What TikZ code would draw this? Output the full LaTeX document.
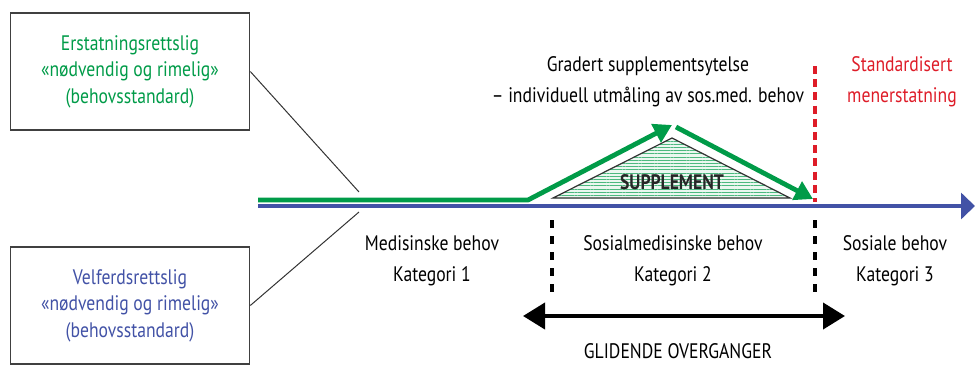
\documentclass[tikz,border=0pt]{standalone}
\usepackage{fontspec}
\setmainfont[FakeStretch=0.84]{PT Sans}
\usepackage{tikz}
\usetikzlibrary{arrows.meta,patterns.meta}
\definecolor{grncolor}{RGB}{0,155,72}
\definecolor{blucolor}{RGB}{66,82,166}
\definecolor{redcolor}{RGB}{222,28,40}
\tikzset{
  box/.style={draw=black!75, thick, minimum width=119.5pt, minimum height=58.5pt, font=\fontsize{10.5}{13.2}\selectfont, align=center, inner sep=2pt},
  lbl/.style={font=\fontsize{10.5}{15.5}\selectfont, align=center, inner sep=1pt},
  pin/.style={draw=black!80, line width=0.5pt},
  gline/.style={draw=grncolor, line width=2.4pt, -{Triangle[length=9pt,width=10pt]}},
  bline/.style={draw=blucolor, line width=2.4pt, -{Triangle[length=7pt,width=13pt]}},
  sep/.style={draw=black, line width=2pt, dash pattern=on 4pt off 4pt},
  rsep/.style={draw=redcolor, line width=2pt, dash pattern=on 4pt off 2.6pt},
  span/.style={draw=black, line width=2pt, {Triangle[length=11pt,width=13pt]}-{Triangle[length=11pt,width=13pt]}},
}
\begin{document}
\begin{tikzpicture}[x=0.5pt,y=-0.5pt]
\useasboundingbox (0,0) rectangle (975,365);
% boxes on the left
\node[box, text=grncolor] (erst) at (130,71.5) {Erstatningsrettslig\\«nødvendig og rimelig»\\(behovsstandard)};
\node[box, text=blucolor] (velf) at (130,305.5) {Velferdsrettslig\\«nødvendig og rimelig»\\(behovsstandard)};
\coordinate (pinup) at (359,192);
\coordinate (pindn) at (359,212);
\draw[pin] (erst.east) -- (pinup);
\draw[pin] (velf.east) -- (pindn);
% main axis
\coordinate (bstart) at (258,206);
\coordinate (bend) at (975,206);
\draw[bline] (bstart) -- (bend);
% supplement triangle
\coordinate (tl) at (553,198);
\coordinate (tt) at (672,138);
\coordinate (tr) at (790,198);
\fill[grncolor!8] (tl) -- (tt) -- (tr) -- cycle;
\fill[pattern={Lines[angle=0,distance=1.6pt,line width=0.35pt]}, pattern color=grncolor!70] (tl) -- (tt) -- (tr) -- cycle;
\draw[black!80, line width=0.6pt] (tl) -- (tt) -- (tr) -- cycle;
\node[font=\fontsize{10.5}{12}\selectfont\bfseries, text=black!85] (supp) at (672,182) {SUPPLEMENT};
% green path
\coordinate (gstart) at (258,200);
\coordinate (gbend) at (528,200);
\coordinate (gpeak) at (672,125);
\coordinate (gdown) at (676,127);
\coordinate (gend) at (813,199);
\draw[gline, line join=round] (gstart) -- (gbend) -- (gpeak);
\draw[gline] (gdown) -- (gend);
% separators
\coordinate (rtop) at (815,66);
\coordinate (rbot) at (815,202);
\draw[rsep] (rtop) -- (rbot);
\coordinate (s1top) at (552,220);
\coordinate (s1bot) at (552,296);
\coordinate (s2top) at (815,220);
\coordinate (s2bot) at (815,296);
\draw[sep] (s1top) -- (s1bot);
\draw[sep] (s2top) -- (s2bot);
% labels
\node[lbl] (grad) at (648,82) {Gradert supplementsytelse\\– individuell utmåling av sos.med. behov};
\node[lbl, text=redcolor] (stand) at (902,82) {Standardisert\\menerstatning};
\node[lbl] (kat1) at (432,261) {Medisinske behov\\Kategori 1};
\node[lbl] (kat2) at (673,261) {Sosialmedisinske behov\\Kategori 2};
\node[lbl] (kat3) at (895,261) {Sosiale behov\\Kategori 3};
% sliding transitions
\coordinate (aleft) at (523,316);
\coordinate (aright) at (845,316);
\draw[span] (aleft) -- (aright);
\node[lbl] (glid) at (678,351) {GLIDENDE OVERGANGER};
\end{tikzpicture}
\end{document}
